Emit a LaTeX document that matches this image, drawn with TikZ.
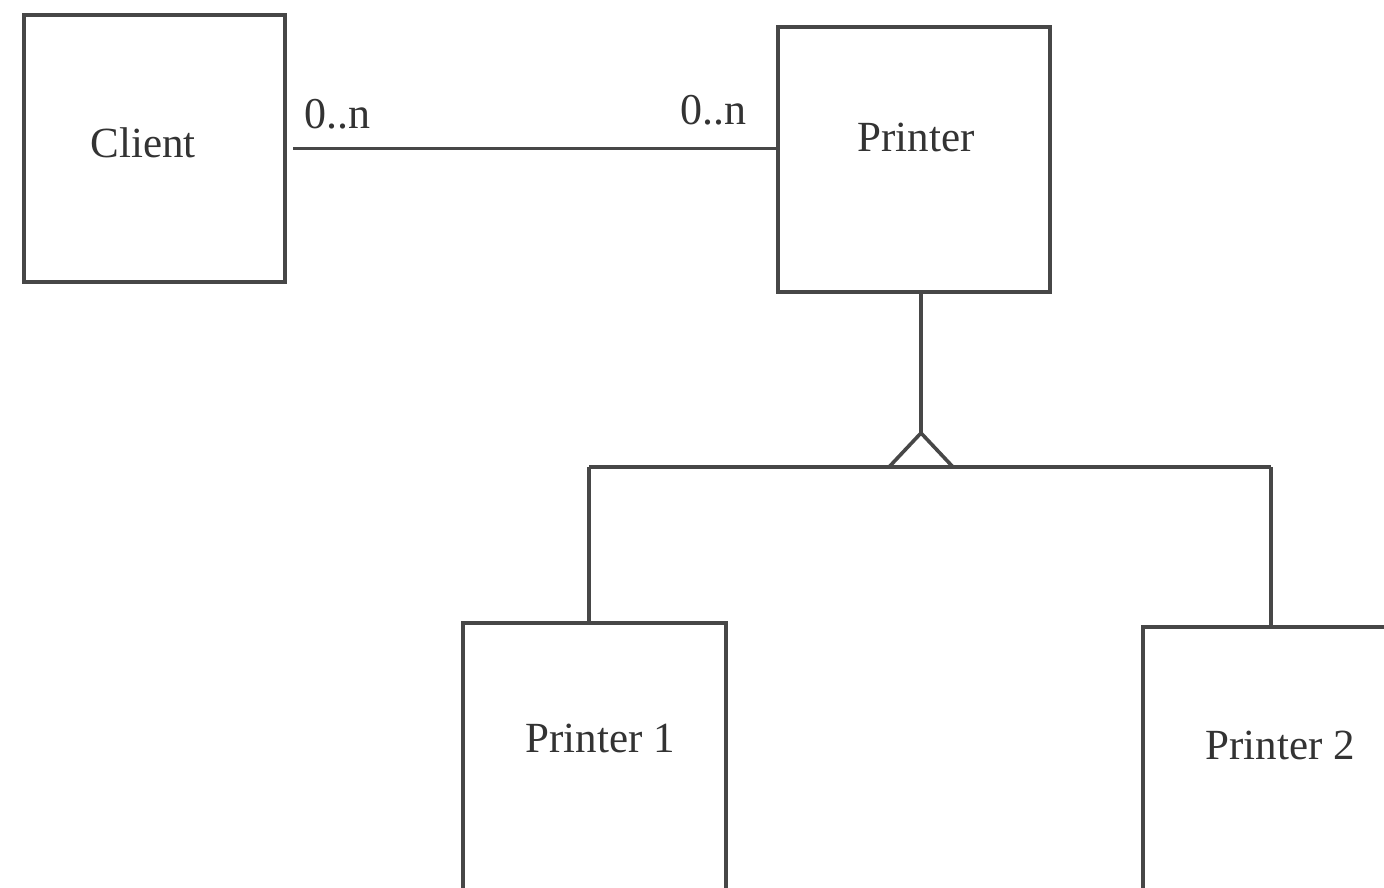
\documentclass[tikz,border=0pt]{standalone}
\usepackage{fontspec}
\setmainfont{Liberation Serif}
\usetikzlibrary{calc}
\definecolor{ink}{gray}{0.28}
\definecolor{textink}{gray}{0.2}
\begin{document}
\begin{tikzpicture}[x=1pt,y=-1pt,
  classbox/.style={draw=ink,line width=3.6pt,fill=none,inner sep=0pt,outer sep=0pt,anchor=north west},
  classname/.style={text=textink,font=\fontsize{43}{50}\selectfont,inner sep=0pt},
  mult/.style={text=textink,font=\fontsize{44}{50}\selectfont,inner sep=0pt,anchor=base west},
  link/.style={draw=ink,line width=3.6pt}]
  \useasboundingbox (0,0) rectangle (1384,887);
  \clip (0,0) rectangle (1384,887);
  \fill[white] (0,0) rectangle (1384,887);

  % classes
  \node[classbox,minimum width=261pt,minimum height=267pt] (client) at (24,15) {};
  \node[classbox,minimum width=272pt,minimum height=265pt] (printer) at (778,27) {};
  \node[classbox,minimum width=263pt,minimum height=290pt] (printerA) at (463,623) {};
  \node[classbox,minimum width=280pt,minimum height=290pt] (printerB) at (1143,627) {};

  \node[classname] (clientname) at (143,143) {Client};
  \node[classname] (printername) at (916,137) {Printer};
  \node[classname] (printerAname) at (600,738) {Printer 1};
  \node[classname] (printerBname) at (1280,745) {Printer 2};

  % association with multiplicities
  \draw[link] ([xshift=8pt]client.east) -- (printer.west |- client.east);
  \node[mult] (multL) at (304,128) {0..n};
  \node[mult] (multR) at (680,124) {0..n};

  % generalisation
  \coordinate (apex) at (921,433);
  \coordinate (baseL) at (889,467);
  \coordinate (baseR) at (953,467);
  \coordinate (busL) at (589,467);
  \coordinate (busR) at (1271,467);
  \draw[link] (printer.south -| apex) -- (apex);
  \draw[link,line join=miter] (baseL) -- (apex) -- (baseR);
  \draw[link] (busL) -- (busR);
  \draw[link] (busL) -- (busL |- printerA.north);
  \draw[link] (busR) -- (busR |- printerB.north);
\end{tikzpicture}
\end{document}
